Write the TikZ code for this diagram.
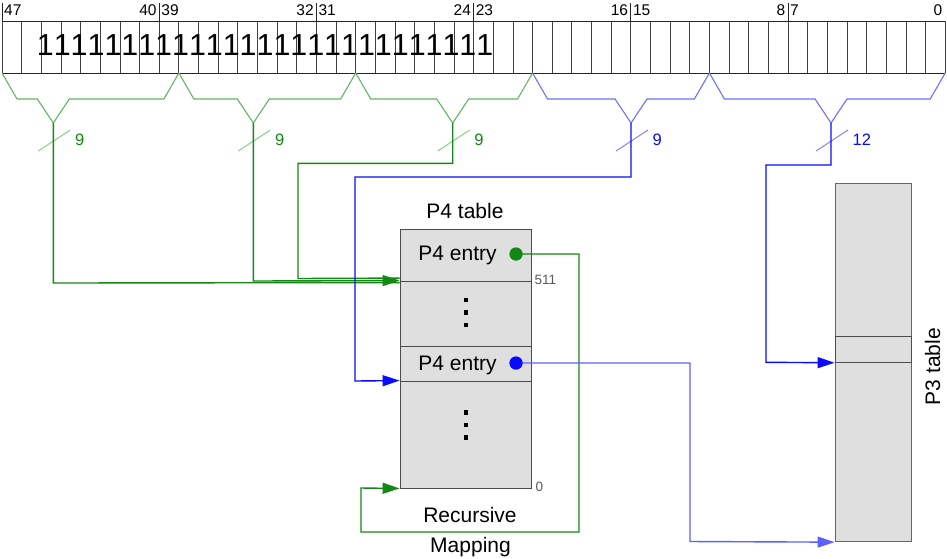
\documentclass[tikz,border=0pt]{standalone}
\usepackage{fontspec}
\setmainfont{Liberation Sans}
\newfontfamily\bigsans[Kerning=Off]{Liberation Sans}
\usetikzlibrary{arrows.meta}
\definecolor{rgreen}{RGB}{20,135,20}
\definecolor{bgreen}{RGB}{100,180,100}
\definecolor{sgreen}{RGB}{140,205,140}
\definecolor{rblue}{RGB}{10,10,255}
\definecolor{bblue}{RGB}{110,110,255}
\definecolor{sblue}{RGB}{130,130,255}
\definecolor{lblue}{RGB}{95,95,255}
\definecolor{cellfill}{RGB}{223,223,223}
\begin{document}
\begin{tikzpicture}[x=1pt,y=-1pt,
  gridline/.style={draw=black!75,line width=0.8pt},
  regline/.style={draw=black!85,line width=0.9pt},
  bitlbl/.style={inner sep=0pt,font=\fontsize{15.5}{18}\selectfont},
  brace/.style={line width=1.1pt,line join=miter},
  route/.style={line width=1.4pt},
  slash/.style={line width=1pt},
  wlbl/.style={inner sep=0pt,anchor=west,font=\fontsize{16.5}{18}\selectfont},
  tip/.style={-{Triangle[length=17pt,width=11pt]}},
  cell/.style={draw=black!70,fill=cellfill,line width=0.9pt,inner sep=0pt},
  txt/.style={inner sep=0pt,anchor=base,font=\fontsize{21}{24}\selectfont},
  small/.style={inner sep=0pt,text=black!65,font=\fontsize{13.5}{15}\selectfont},
  sq/.style={fill=black,inner sep=0pt,minimum size=4.5pt},
]
\useasboundingbox (0,0) rectangle (947,558);

% ---------------- register ----------------
\foreach \i in {0,...,48} \draw[gridline] (2+19.65*\i,21) -- (2+19.65*\i,73);
\draw[regline] (2,21) -- (945.2,21);
\draw[regline] (2,73) -- (945.2,73);
\foreach \k in {0,...,5} \draw[regline] (2+157.2*\k,3) -- (2+157.2*\k,21);
\node[bitlbl,anchor=base west] (l47) at (4,15) {47};
\node[bitlbl,anchor=base east] (l40) at (156.7,15) {40};
\node[bitlbl,anchor=base west] (l39) at (161.2,15) {39};
\node[bitlbl,anchor=base east] (l32) at (313.9,15) {32};
\node[bitlbl,anchor=base west] (l31) at (318.4,15) {31};
\node[bitlbl,anchor=base east] (l24) at (471.1,15) {24};
\node[bitlbl,anchor=base west] (l23) at (475.6,15) {23};
\node[bitlbl,anchor=base east] (l16) at (628.3,15) {16};
\node[bitlbl,anchor=base west] (l15) at (632.8,15) {15};
\node[bitlbl,anchor=base east] (l8) at (785.5,15) {8};
\node[bitlbl,anchor=base west] (l7) at (790,15) {7};
\node[bitlbl,anchor=base east] (l0) at (942.5,15) {0};
\node[inner sep=0pt,anchor=base west,font={\bigsans\fontsize{30.4}{32}\selectfont}] (ones) at (36.7,55.7)
  {111111111111111111111111111};

% ---------------- braces ----------------
\coordinate (t1) at (53.3,123);
\coordinate (t2) at (253.3,123);
\coordinate (t3) at (452.7,123);
\coordinate (t4) at (631,123);
\coordinate (t5) at (831,123);
\draw[brace,bgreen] (2,73) -- (17,99) -- (37.3,99) -- (t1) -- (69.3,99) -- (163.85,99) -- (178.85,73);
\draw[brace,bgreen] (178.85,73) -- (193.85,99) -- (237.3,99) -- (t2) -- (269.3,99) -- (340.7,99) -- (355.7,73);
\draw[brace,bgreen] (355.7,73) -- (370.7,99) -- (436.7,99) -- (t3) -- (468.7,99) -- (517.55,99) -- (532.55,73);
\draw[brace,bblue] (532.55,73) -- (547.55,99) -- (615,99) -- (t4) -- (647,99) -- (694.4,99) -- (709.4,73);
\draw[brace,bblue] (709.4,73) -- (724.4,99) -- (815,99) -- (t5) -- (847,99) -- (930.2,99) -- (945.2,73);

% slashes and widths
\draw[slash,sgreen] (38.3,151) -- (70.3,130);
\draw[slash,sgreen] (238.3,151) -- (270.3,130);
\draw[slash,sgreen] (437.7,151) -- (469.7,130);
\draw[slash,sblue] (616,151) -- (648,130);
\draw[slash,sblue] (816,151) -- (848,130);
\node[wlbl,text=rgreen] (w1) at (74.8,140) {9};
\node[wlbl,text=rgreen] (w2) at (274.8,140) {9};
\node[wlbl,text=rgreen] (w3) at (474.2,140) {9};
\node[wlbl,text=rblue] (w4) at (652.5,140) {9};
\node[wlbl,text=rblue] (w5) at (852.5,140) {12};

% ---------------- P4 table ----------------
\node[txt] (p4title) at (465,218.3) {P4 table};
\node[cell,minimum width=131.5pt,minimum height=52pt] (e1) at (465.75,255) {};
\node[cell,minimum width=131.5pt,minimum height=65pt] (d1) at (465.75,313.5) {};
\node[cell,minimum width=131.5pt,minimum height=35pt] (e2) at (465.75,363.5) {};
\node[cell,minimum width=131.5pt,minimum height=107pt] (d2) at (465.75,434.5) {};
\node[txt] (e1t) at (457.5,260) {P4 entry};
\node[txt] (e2t) at (457.5,370) {P4 entry};
\node[sq] at (466,300) {};
\node[sq] at (466,312.5) {};
\node[sq] at (466,325) {};
\node[sq] at (466,412.7) {};
\node[sq] at (466,425) {};
\node[sq] at (466,437.3) {};
\node[small,anchor=west] (n511) at (534.5,279.5) {511};
\node[small,anchor=west] (n0) at (535.5,486.5) {0};
\coordinate (e1in) at (d1.north west);
\coordinate (e2in) at (d2.north west);
\coordinate (p4bot) at (d2.south west);

% ---------------- P3 table ----------------
\node[cell,draw=black!60,minimum width=76.7pt,minimum height=358.4pt] (p3) at (873.35,362.5) {};
\node[cell,minimum width=76.7pt,minimum height=25.6pt] (p3e) at (873.35,349.5) {};
\node[txt,rotate=90] (p3t) at (940,366.5) {P3 table};

% ---------------- routes ----------------
\draw[route,rgreen] (t1) -- (53.3,283) -- ([yshift=-2pt]e1in);
\draw[route,rgreen] (t3) -- (452.7,163.3) -- (298,163.3) -- (298,278.5) -- ([yshift=2.5pt]e1in);
\draw[route,rgreen,tip] (t2) -- (253.3,281) -- (e1in);
\draw[route,rblue,tip] (t4) -- (631,177) -- (355,177) -- (355,381) -- (e2in);
\draw[route,rblue,tip] (t5) -- (831,165) -- (766,165) -- (766,362.3) -- (p3e.south west);

\node[circle,fill=rgreen,inner sep=0pt,minimum size=13pt] (dot1) at (516,254) {};
\node[circle,fill=rblue,inner sep=0pt,minimum size=13pt] (dot2) at (516,363) {};
\draw[route,rgreen,tip] (dot1.center) -- (579,254) -- (579,532) -- (361,532) -- (361,488) -- (p4bot);
\draw[route,lblue,tip] (dot2.center) -- (690,363) -- (690,541.5) -- (p3.south west);
\node[circle,fill=rgreen,inner sep=0pt,minimum size=13pt] at (516,254) {};
\node[circle,fill=rblue,inner sep=0pt,minimum size=13pt] at (516,363) {};

\node[txt] (rec) at (470,522.7) {Recursive};
\node[txt] (map) at (470.5,552) {Mapping};
\end{tikzpicture}
\end{document}
